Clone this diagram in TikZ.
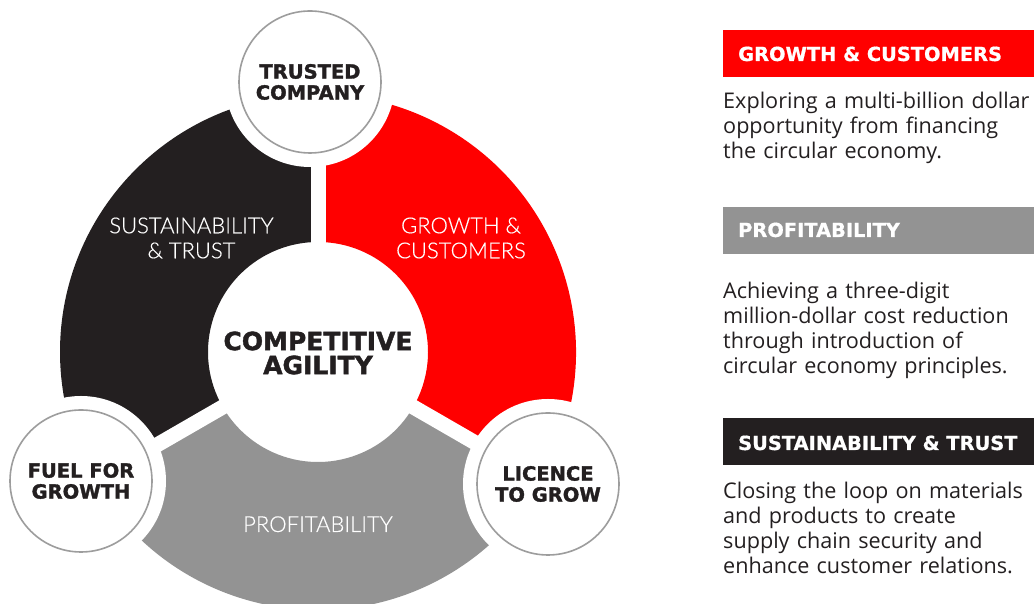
\documentclass[tikz,border=0pt]{standalone}
\usepackage{fontspec}
\usetikzlibrary{calc}
\newfontfamily\heavyf{DejaVu Sans Bold}[FakeBold=1.6]
\newfontfamily\titlef{DejaVu Sans Bold}[FakeBold=0.8]
\IfFontExistsTF{Lato Light}{\newfontfamily\lightf{Lato Light}[FakeBold=0.4]}{%
  \IfFontExistsTF{Open Sans Light}{\newfontfamily\lightf{Open Sans Light}}{\newfontfamily\lightf{Liberation Sans}}}
\newfontfamily\bodyf{Open Sans}
\definecolor{accred}{HTML}{FF0000}
\definecolor{accblack}{HTML}{231F20}
\definecolor{accgray}{HTML}{939393}
\definecolor{ringline}{HTML}{9D9D9D}
\begin{document}
\begin{tikzpicture}[x=1pt,y=1pt,
  ringlbl/.style={text=white, align=center, inner sep=0pt, font=\lightf\fontsize{22}{25}\selectfont},
  smallcirc/.style={circle, draw=ringline, line width=1.6pt, fill=white, minimum size=142pt, inner sep=0pt,
     align=center, text=accblack, font=\heavyf\fontsize{19.5}{21}\selectfont},
  corelbl/.style={align=center, inner sep=0pt, text=accblack, font=\heavyf\fontsize{25}{24}\selectfont},
  titlebox/.style={anchor=south west, minimum width=311pt, minimum height=47pt, inner sep=0pt, outer sep=0pt},
  titletxt/.style={anchor=base west, inner sep=0pt, text=white, font=\titlef\fontsize{19.4}{22}\selectfont},
  bodytxt/.style={anchor=base west, inner sep=0pt, text width=320pt, align=left, text=accblack,
     font=\bodyf\fontsize{21.6}{24.7}\selectfont}]
\useasboundingbox (0,0) rectangle (1034,604);
\clip (0,0) rectangle (1034,604);
\def\Ro{258}
\def\Ri{110}
\coordinate (C) at (318,252);
% sectors
\fill[accred] ($(C)+(-30:\Ro)$) arc[start angle=-30,end angle=90,radius=\Ro]
   -- ($(C)+(90:\Ri)$) arc[start angle=90,end angle=-30,radius=\Ri] -- cycle;
\fill[accblack] ($(C)+(90:\Ro)$) arc[start angle=90,end angle=210,radius=\Ro]
   -- ($(C)+(210:\Ri)$) arc[start angle=210,end angle=90,radius=\Ri] -- cycle;
\fill[accgray] ($(C)+(210:\Ro)$) arc[start angle=210,end angle=330,radius=\Ro]
   -- ($(C)+(330:\Ri)$) arc[start angle=330,end angle=210,radius=\Ri] -- cycle;
% gaps
\foreach \a in {90,210,330} \draw[white, line width=15pt] (C) -- ++(\a:280);
% small circle positions and halos
\coordinate (Tc) at (310,522);
\coordinate (Fc) at (81,123);
\coordinate (Lc) at (548,120);
\foreach \p in {Tc,Fc,Lc} \fill[white] (\p) circle[radius=85];
% small circles
\node[smallcirc] (trusted) at (Tc) {TRUSTED\\COMPANY};
\node[smallcirc] (fuel) at (Fc) {FUEL FOR\\GROWTH};
\node[smallcirc] (licence) at (Lc) {LICENCE\\TO GROW};
% core
\node[corelbl] (core) at (318,251) {COMPETITIVE\\AGILITY};
% ring labels
\node[ringlbl] (sustlbl) at (191.5,366) {SUSTAINABILITY\\\& TRUST};
\node[ringlbl] (growlbl) at (461,366) {GROWTH \&\\CUSTOMERS};
\node[ringlbl, anchor=base] (proflbl) at (318,72) {PROFITABILITY};
% right column
\node[titlebox, fill=accred] (gcbox) at (723,527) {};
\node[titletxt] (gctitle) at (738,543) {GROWTH \& CUSTOMERS};
\node[bodytxt] (gcbody) at (723,495) {Exploring a multi-billion dollar\\opportunity from financing\\the circular economy.};
\node[titlebox, fill=accgray] (pfbox) at (723,350) {};
\node[titletxt] (pftitle) at (738,367) {PROFITABILITY};
\node[bodytxt] (pfbody) at (723,305) {Achieving a three-digit\\million-dollar cost reduction\\through introduction of\\circular economy principles.};
\node[titlebox, fill=accblack] (stbox) at (723,139) {};
\node[titletxt] (sttitle) at (738,154) {SUSTAINABILITY \& TRUST};
\node[bodytxt] (stbody) at (723,105) {Closing the loop on materials\\and products to create\\supply chain security and\\enhance customer relations.};
\end{tikzpicture}
\end{document}
